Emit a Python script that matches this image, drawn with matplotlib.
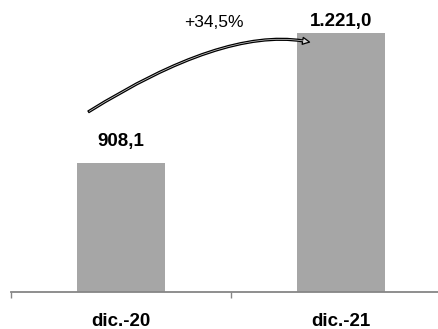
import matplotlib.pyplot as plt
from matplotlib.patches import FancyArrowPatch

# values
periods = ["dic.-20", "dic.-21"]
values = [908.1, 1221.0]
value_labels = ["908,1", "1.221,0"]
label_y = [961, 1249]
growth_label = "+34,5%"

plt.rcParams['font.family'] = ['Liberation Sans', 'DejaVu Sans']

fig = plt.figure(figsize=(4.38, 3.29), dpi=100)
ax = fig.add_axes([11 / 438, 37 / 329, 440 / 438, 292 / 329])

x = list(range(len(periods)))
ax.bar(x, values, width=0.4, color="#a6a6a6", zorder=2)

ax.set_xlim(-0.5, 1.5)
ax.set_ylim(600, 1300)

for xi, ly, lab in zip(x, label_y, value_labels):
    ax.text(xi, ly, lab, ha="center", va="center", fontsize=13.5, fontweight="bold")

# axis styling: only the category axis, ticks between categories
for side in ["left", "right", "top"]:
    ax.spines[side].set_visible(False)
ax.spines["bottom"].set_color("#868686")
ax.spines["bottom"].set_linewidth(1.3)
ax.set_yticks([])
ax.set_xticks([-0.5, 0.5, 1.5])
ax.set_xticklabels([])
ax.tick_params(axis="x", which="major", length=4, width=1, color="#868686", direction="out")
ax.set_xticks(x, minor=True)
ax.set_xticklabels(periods, minor=True, fontsize=13.5, fontweight="bold")
ax.tick_params(axis="x", which="minor", length=0, pad=15)

# curved growth arrow
arrow = FancyArrowPatch((-0.148, 1032), (0.857, 1199),
                        connectionstyle="angle3,angleA=32,angleB=-12",
                        arrowstyle="simple,head_length=5,head_width=5,tail_width=1.4",
                        shrinkA=0, shrinkB=0,
                        facecolor="#d9d9d9", edgecolor="black", linewidth=0.9,
                        zorder=3)
ax.add_patch(arrow)
ax.text(0.42, 1247, growth_label, ha="center", va="center", fontsize=12.5)

fig.savefig("out.png", dpi=100)
